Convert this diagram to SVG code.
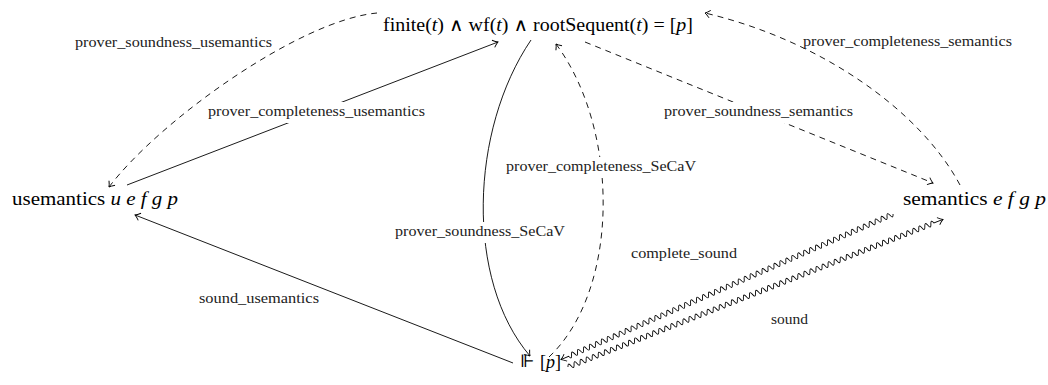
<svg xmlns="http://www.w3.org/2000/svg" width="1048" height="385" viewBox="0 0 1048 385">
<defs>
<style>
.node{font-family:"Liberation Serif","DejaVu Serif",serif;font-size:18px;fill:#000}
.lbl{font-family:"Liberation Serif","DejaVu Serif",serif;font-size:14px;fill:#222}
.m{font-style:italic}
.e{fill:none;stroke:#000;stroke-width:0.9}
.d{stroke-dasharray:6 5}
.bg{fill:#fff}
</style>
<marker id="arr" viewBox="-7 -5 8 10" refX="0" refY="0" markerWidth="8" markerHeight="10" markerUnits="userSpaceOnUse" orient="auto">
<path d="M-5,-3.8 Q-2,-1 0,0 Q-2,1 -5,3.8" fill="none" stroke="#000" stroke-width="0.9" stroke-dasharray="none"/>
</marker>
</defs>
<rect width="1048" height="385" fill="#fff"/>
<g id="connectors">
<path class="e d" d="M377,13 C300,20 160,120 109,187" marker-end="url(#arr)"/>
<path class="e" d="M127,185 L498,42" marker-end="url(#arr)"/>
<path class="e" d="M531,40 C470,130 465,280 530,356" marker-end="url(#arr)"/>
<path class="e d" d="M549,357 C620,290 620,130 556,44" marker-end="url(#arr)"/>
<path class="e d" d="M585,42 L933,183" marker-end="url(#arr)"/>
<path class="e d" d="M960,185 C920,110 820,40 705,13" marker-end="url(#arr)"/>
<path class="e" d="M513,363 L135,215" marker-end="url(#arr)"/>
<g transform="translate(893,214) rotate(156.32)">
<path class="e" marker-end="url(#arr)" d="M0,0 q1.625,-5 3.25,0 t3.25,0 3.25,0 3.25,0 3.25,0 3.25,0 3.25,0 3.25,0 3.25,0 3.25,0 3.25,0 3.25,0 3.25,0 3.25,0 3.25,0 3.25,0 3.25,0 3.25,0 3.25,0 3.25,0 3.25,0 3.25,0 3.25,0 3.25,0 3.25,0 3.25,0 3.25,0 3.25,0 3.25,0 3.25,0 3.25,0 3.25,0 3.25,0 3.25,0 3.25,0 3.25,0 3.25,0 3.25,0 3.25,0 3.25,0 3.25,0 3.25,0 3.25,0 3.25,0 3.25,0 3.25,0 3.25,0 3.25,0 3.25,0 3.25,0 3.25,0 3.25,0 3.25,0 3.25,0 3.25,0 3.25,0 3.25,0 3.25,0 3.25,0 3.25,0 3.25,0 3.25,0 3.25,0 3.25,0 3.25,0 3.25,0 3.25,0 3.25,0 3.25,0 3.25,0 3.25,0 3.25,0 3.25,0 3.25,0 3.25,0 3.25,0 3.25,0 3.25,0 3.25,0 3.25,0 3.25,0 3.25,0 3.25,0 3.25,0 3.25,0 3.25,0 3.25,0 3.25,0 3.25,0 3.25,0 3.25,0 3.25,0 3.25,0 3.25,0 3.25,0 3.25,0 3.25,0 3.25,0 3.25,0 3.25,0 3.25,0 3.25,0 3.25,0 3.25,0 3.25,0 3.25,0 3.25,0 3.25,0 3.25,0 l8.25,0"/>
</g>
<g transform="translate(568,367) rotate(-21.49)">
<path class="e" marker-end="url(#arr)" d="M0,0 q1.625,-5 3.25,0 t3.25,0 3.25,0 3.25,0 3.25,0 3.25,0 3.25,0 3.25,0 3.25,0 3.25,0 3.25,0 3.25,0 3.25,0 3.25,0 3.25,0 3.25,0 3.25,0 3.25,0 3.25,0 3.25,0 3.25,0 3.25,0 3.25,0 3.25,0 3.25,0 3.25,0 3.25,0 3.25,0 3.25,0 3.25,0 3.25,0 3.25,0 3.25,0 3.25,0 3.25,0 3.25,0 3.25,0 3.25,0 3.25,0 3.25,0 3.25,0 3.25,0 3.25,0 3.25,0 3.25,0 3.25,0 3.25,0 3.25,0 3.25,0 3.25,0 3.25,0 3.25,0 3.25,0 3.25,0 3.25,0 3.25,0 3.25,0 3.25,0 3.25,0 3.25,0 3.25,0 3.25,0 3.25,0 3.25,0 3.25,0 3.25,0 3.25,0 3.25,0 3.25,0 3.25,0 3.25,0 3.25,0 3.25,0 3.25,0 3.25,0 3.25,0 3.25,0 3.25,0 3.25,0 3.25,0 3.25,0 3.25,0 3.25,0 3.25,0 3.25,0 3.25,0 3.25,0 3.25,0 3.25,0 3.25,0 3.25,0 3.25,0 3.25,0 3.25,0 3.25,0 3.25,0 3.25,0 3.25,0 3.25,0 3.25,0 3.25,0 3.25,0 3.25,0 3.25,0 3.25,0 3.25,0 3.25,0 3.25,0 3.25,0 3.25,0 3.25,0 3.25,0 3.25,0 3.25,0 3.25,0 3.25,0 3.25,0 3.25,0 3.25,0 3.25,0 3.25,0 l9.75,0"/>
</g>
</g>
<g id="labels">
<text class="lbl" x="75" y="47" textLength="197" lengthAdjust="spacingAndGlyphs">prover_soundness_usemantics</text>
<text class="lbl" x="803" y="46" textLength="209" lengthAdjust="spacingAndGlyphs">prover_completeness_semantics</text>
<rect class="bg" x="205" y="102" width="223" height="21"/>
<text class="lbl" x="208" y="116" textLength="217" lengthAdjust="spacingAndGlyphs">prover_completeness_usemantics</text>
<rect class="bg" x="661" y="102" width="195" height="21"/>
<text class="lbl" x="664" y="116" textLength="189" lengthAdjust="spacingAndGlyphs">prover_soundness_semantics</text>
<rect class="bg" x="503" y="157" width="196" height="21"/>
<text class="lbl" x="506" y="171" textLength="190" lengthAdjust="spacingAndGlyphs">prover_completeness_SeCaV</text>
<rect class="bg" x="392" y="222" width="176" height="21"/>
<text class="lbl" x="395" y="236" textLength="170" lengthAdjust="spacingAndGlyphs">prover_soundness_SeCaV</text>
<text class="lbl" x="631" y="258" textLength="106" lengthAdjust="spacingAndGlyphs">complete_sound</text>
<text class="lbl" x="771" y="324" textLength="37" lengthAdjust="spacingAndGlyphs">sound</text>
<text class="lbl" x="199" y="303" textLength="120" lengthAdjust="spacingAndGlyphs">sound_usemantics</text>
</g>
<g id="node-top">
<text class="node" x="383" y="31" textLength="310" lengthAdjust="spacingAndGlyphs">finite(<tspan class="m">t</tspan>) ∧ wf(<tspan class="m">t</tspan>) ∧ rootSequent(<tspan class="m">t</tspan>) = [<tspan class="m">p</tspan>]</text>
</g>
<g id="node-usemantics">
<text class="node" x="12" y="205" textLength="166" lengthAdjust="spacingAndGlyphs">usemantics <tspan class="m">u e f g p</tspan></text>
</g>
<g id="node-semantics">
<text class="node" x="903" y="205" textLength="143" lengthAdjust="spacingAndGlyphs">semantics <tspan class="m">e f g p</tspan></text>
</g>
<g id="node-forces">
<text class="node" x="520" y="367" style="font-family:'DejaVu Serif',serif;font-size:17px">⊩</text>
<text class="node" x="540" y="368">[<tspan class="m">p</tspan>]</text>
</g>
</svg>
